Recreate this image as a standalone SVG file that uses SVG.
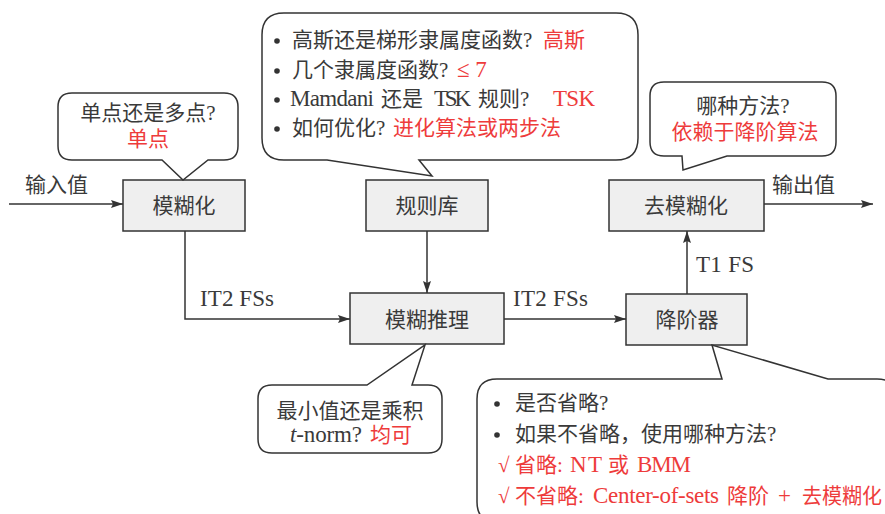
<svg xmlns="http://www.w3.org/2000/svg" width="885" height="514" viewBox="0 0 885 514">
<defs>
<marker id="arr" viewBox="0 0 12 8" refX="12" refY="4" markerWidth="12" markerHeight="8" markerUnits="userSpaceOnUse" orient="auto">
<path d="M0,0 L12,4 L0,8 L2,4 Z" fill="#333"/>
</marker>
<style>
text{font-family:'Liberation Serif','Noto Sans CJK SC',serif;font-size:21px;fill:#3a3a3a}
.c{text-anchor:middle}
.r{fill:#ee3b3b}
.l{font-size:23px}
.box{fill:#efefef;stroke:#333;stroke-width:1.5}
.call{fill:#fff;stroke:#333;stroke-width:1.5;stroke-linejoin:miter}
.ln{fill:none;stroke:#333;stroke-width:1.5}
.bul{fill:#333}
</style>
</defs>
<rect width="885" height="514" fill="#fff"/>

<g id="connectors">
<path class="ln" d="M9,204 H123" marker-end="url(#arr)"/>
<path class="ln" d="M185,231 V319 H350" marker-end="url(#arr)"/>
<path class="ln" d="M427,231 V293" marker-end="url(#arr)"/>
<path class="ln" d="M504,319 H626" marker-end="url(#arr)"/>
<path class="ln" d="M687,294 V231" marker-end="url(#arr)"/>
<path class="ln" d="M764,204 H873" marker-end="url(#arr)"/>
<text x="25" y="192">输入值</text>
<text x="772" y="192">输出值</text>
<text class="l" x="200" y="306" textLength="74">IT2 FSs</text>
<text class="l" x="513" y="306" textLength="75">IT2 FSs</text>
<text class="l" x="696" y="272" textLength="58">T1 FS</text>
</g>

<g id="fuzzifier">
<rect class="box" x="123" y="180" width="122" height="51"/>
<text class="c" x="184" y="213">模糊化</text>
</g>
<g id="rulebase">
<rect class="box" x="366" y="180" width="122" height="51"/>
<text class="c" x="427" y="213">规则库</text>
</g>
<g id="defuzzifier">
<rect class="box" x="609" y="180" width="155" height="51"/>
<text class="c" x="686" y="213">去模糊化</text>
</g>
<g id="inference">
<rect class="box" x="350" y="293" width="154" height="51"/>
<text class="c" x="427" y="327">模糊推理</text>
</g>
<g id="reducer">
<rect class="box" x="626" y="294" width="121" height="51"/>
<text class="c" x="687" y="327">降阶器</text>
</g>

<g id="callout-fuzzifier">
<path class="call" d="M72,93 H224 Q238,93 238,107 V146 Q238,160 224,160 H208 L183,180 L162,160 H72 Q58,160 58,146 V107 Q58,93 72,93 Z"/>
<text class="c" x="148" y="120">单点还是多点?</text>
<text class="c r" x="148" y="146">单点</text>
</g>

<g id="callout-rulebase">
<path class="call" d="M284,13 H616 Q638,13 638,35 V138 Q638,160 616,160 H419 L432,176 L327,160 H284 Q262,160 262,138 V35 Q262,13 284,13 Z"/>
<circle class="bul" cx="277" cy="41" r="2.8"/>
<circle class="bul" cx="277" cy="71" r="2.8"/>
<circle class="bul" cx="277" cy="100" r="2.8"/>
<circle class="bul" cx="277" cy="129" r="2.8"/>
<text x="292" y="47">高斯还是梯形隶属度函数?<tspan class="r" x="543">高斯</tspan></text>
<text x="292" y="77">几个隶属度函数?<tspan class="r l" x="457">≤ 7</tspan></text>
<text class="l" x="290" y="106" textLength="84">Mamdani</text>
<text x="381" y="106">还是</text>
<text class="l" x="434" y="106" textLength="37">TSK</text>
<text x="478" y="106">规则?</text>
<text class="l r" x="553" y="106" textLength="42">TSK</text>
<text x="292" y="135">如何优化?<tspan class="r" x="393">进化算法或两步法</tspan></text>
</g>

<g id="callout-defuzzifier">
<path class="call" d="M664,82 H822 Q836,82 836,96 V142 Q836,156 822,156 H727 L683,170 L682,156 H664 Q650,156 650,142 V96 Q650,82 664,82 Z"/>
<text class="c" x="743" y="113">哪种方法?</text>
<text class="c r" x="745" y="139">依赖于降阶算法</text>
</g>

<g id="callout-inference">
<path class="call" d="M272,385 H367 L425,345 L412,385 H428 Q442,385 442,399 V439 Q442,453 428,453 H272 Q258,453 258,439 V399 Q258,385 272,385 Z"/>
<text class="c" x="350" y="418">最小值还是乘积</text>
<text class="l" x="290" y="442" textLength="72"><tspan font-style="italic">t</tspan>-norm?</text>
<text class="r" x="370" y="442">均可</text>
</g>

<g id="callout-reducer">
<path class="call" d="M497,379 H722 L712,345 L828,379 H877 Q897,379 897,399 V502 Q897,522 877,522 H497 Q477,522 477,502 V399 Q477,379 497,379 Z"/>
<circle class="bul" cx="497" cy="404" r="2.8"/>
<circle class="bul" cx="497" cy="435" r="2.8"/>
<text x="515" y="410">是否省略?</text>
<text x="515" y="441">如果不省略，使用哪种方法?</text>
<text class="r" x="498" y="472">√</text>
<text class="r" x="515" y="472">省略:</text>
<text class="r l" x="570" y="472" textLength="32">NT</text>
<text class="r" x="608" y="472">或</text>
<text class="r l" x="637" y="472" textLength="54">BMM</text>
<text class="r" x="498" y="503">√</text>
<text class="r" x="515" y="503">不省略:</text>
<text class="r l" x="593" y="503" textLength="126">Center-of-sets</text>
<text class="r" x="727" y="503" textLength="42" lengthAdjust="spacingAndGlyphs">降阶</text>
<text class="r l" x="778" y="503">+</text>
<text class="r" x="802" y="503" textLength="80" lengthAdjust="spacingAndGlyphs">去模糊化</text>
</g>
</svg>
